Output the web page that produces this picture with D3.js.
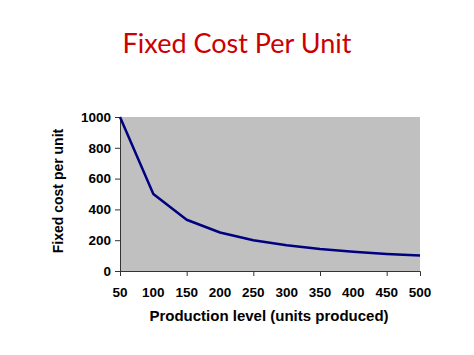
<!DOCTYPE html>
<html><head><meta charset="utf-8">
<script src="https://cdn.jsdelivr.net/npm/d3@7"></script>
<style>body{margin:0;background:#fff}svg{display:block}</style>
</head><body>
<svg id="c" width="474" height="355"></svg>
<script>
const production = [50,100,150,200,250,300,350,400,450,500];
const fixedCostPerUnit = [1000,500,333,250,200,167,143,125,111,100];
const xTickLabels = [50,100,150,200,250,300,350,400,450,500];
const yTickLabels = [0,200,400,600,800,1000];

const svg = d3.select("#c");
const L=120,R=420,T=117,B=271;
const x = d3.scaleLinear().domain([50,500]).range([L,R]);
const y = d3.scaleLinear().domain([0,1000]).range([B,T]);

svg.append("text").attr("x",237).attr("y",53).attr("text-anchor","middle")
  .attr("font-family","Lato, 'Open Sans', sans-serif").attr("font-size",27)
  .attr("fill","#cc0000").text("Fixed Cost Per Unit");

svg.append("rect").attr("x",L).attr("y",T).attr("width",R-L).attr("height",B-T).attr("fill","#c0c0c0");

// y axis
const ya = svg.append("g").attr("transform",`translate(${L},0)`)
  .call(d3.axisLeft(y).tickValues(yTickLabels).tickSize(5).tickPadding(4).tickFormat(d3.format("d")));
ya.select(".domain").attr("stroke","#333");
ya.selectAll(".tick line").attr("stroke","#333");
ya.selectAll("text").attr("font-family","Liberation Sans, Arial, sans-serif").attr("font-weight","bold").attr("font-size",13.5).attr("fill","#000");

// x axis tick marks every other category
const xa = svg.append("g").attr("transform",`translate(0,${B})`)
  .call(d3.axisBottom(x).tickValues([50,150,250,350,450]).tickSize(5).tickFormat(""));
xa.select(".domain").attr("stroke","#333");
xa.selectAll(".tick line").attr("stroke","#333");
svg.append("g").selectAll("text").data(xTickLabels).join("text")
  .attr("x",d=>x(d)).attr("y",297).attr("text-anchor","middle")
  .attr("font-family","Liberation Sans, Arial, sans-serif").attr("font-weight","bold").attr("font-size",13.5)
  .text(d=>d);

const line = d3.line().x((d,i)=>x(production[i])).y(d=>y(d));
svg.append("path").datum(fixedCostPerUnit).attr("d",line).attr("fill","none")
  .attr("stroke","#000080").attr("stroke-width",2.5).attr("stroke-linejoin","round");

svg.append("text").attr("x",269).attr("y",321).attr("text-anchor","middle")
  .attr("font-family","Liberation Sans, Arial, sans-serif").attr("font-weight","bold").attr("font-size",15)
  .text("Production level (units produced)");
svg.append("text").attr("transform","translate(63,191) rotate(-90)").attr("text-anchor","middle")
  .attr("font-family","Liberation Sans, Arial, sans-serif").attr("font-weight","bold").attr("font-size",14)
  .text("Fixed cost per unit");
</script>
</body></html>
